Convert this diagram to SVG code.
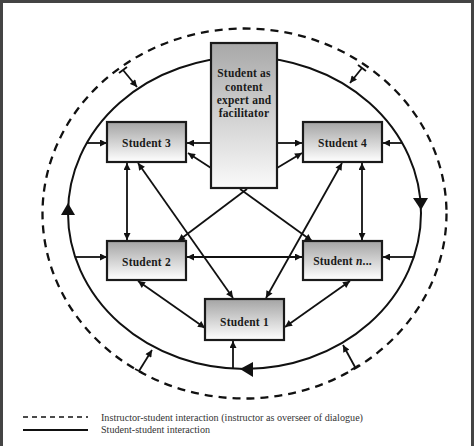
<svg xmlns="http://www.w3.org/2000/svg" width="474" height="446" viewBox="0 0 474 446">
<style>
.box{stroke:#1a1a1a;stroke-width:2.2;fill:url(#g)}
.lbl{font-family:"Liberation Serif",serif;font-weight:bold;font-size:11.5px;fill:#1a1a1a;text-anchor:middle;letter-spacing:0.2px}
.c{stroke:#111;stroke-width:1.8;fill:none}
.leg{font-family:"Liberation Serif",serif;font-size:9.5px;fill:#333}
</style>
<defs>
<linearGradient id="g" x1="0" y1="0" x2="0" y2="1"><stop offset="0" stop-color="#a4a4a4"/><stop offset="1" stop-color="#ffffff"/></linearGradient>
<linearGradient id="g2" x1="0" y1="0" x2="0" y2="1"><stop offset="0" stop-color="#a8a8a8"/><stop offset="1" stop-color="#fafafa"/></linearGradient>
<marker id="a" viewBox="0 0 10 10" refX="10" refY="5" markerWidth="8" markerHeight="7" markerUnits="userSpaceOnUse" orient="auto-start-reverse"><path d="M0,0L10,5L0,10z" fill="#111"/></marker>
</defs>
<rect x="1.5" y="1.5" width="471" height="450" fill="#fff" stroke="#444" stroke-width="3"/>
<g id="ellipses">
<ellipse cx="244.5" cy="213.5" rx="202" ry="185" fill="none" stroke="#111" stroke-width="2.3" stroke-dasharray="8,6"/>
<ellipse cx="244.5" cy="213" rx="176.5" ry="156" fill="none" stroke="#111" stroke-width="2"/>
<path d="M68,203L61,215L75,215z" fill="#111"/>
<path d="M421,210L413,198L428,198z" fill="#111"/>
<path d="M240,369L253,362L253,377z" fill="#111"/>
</g>
<g id="connectors">
<line class="c" x1="87" y1="143" x2="107" y2="143" marker-end="url(#a)"/>
<line class="c" x1="211" y1="143" x2="187" y2="143" marker-end="url(#a)"/>
<line class="c" x1="211" y1="168" x2="188" y2="153" marker-end="url(#a)"/>
<line class="c" x1="277" y1="143" x2="302" y2="143" marker-end="url(#a)"/>
<line class="c" x1="277" y1="168" x2="302" y2="153" marker-end="url(#a)"/>
<line class="c" x1="402" y1="143" x2="383" y2="143" marker-end="url(#a)"/>
<line class="c" x1="127" y1="163" x2="127" y2="240" marker-start="url(#a)" marker-end="url(#a)"/>
<line class="c" x1="362" y1="163" x2="362" y2="240" marker-start="url(#a)" marker-end="url(#a)"/>
<line class="c" x1="76" y1="257" x2="107" y2="257" marker-end="url(#a)"/>
<line class="c" x1="413" y1="257" x2="383" y2="257" marker-end="url(#a)"/>
<line class="c" x1="187" y1="257" x2="302" y2="257" marker-start="url(#a)" marker-end="url(#a)"/>
<line class="c" x1="138" y1="163" x2="233" y2="298" marker-start="url(#a)" marker-end="url(#a)"/>
<line class="c" x1="342" y1="163" x2="266" y2="298" marker-start="url(#a)" marker-end="url(#a)"/>
<line class="c" x1="138" y1="281" x2="205" y2="328" marker-start="url(#a)" marker-end="url(#a)"/>
<line class="c" x1="350" y1="281" x2="285" y2="327" marker-start="url(#a)" marker-end="url(#a)"/>
<line class="c" x1="247" y1="189" x2="178" y2="241" marker-end="url(#a)"/>
<line class="c" x1="240" y1="189" x2="312" y2="241" marker-end="url(#a)"/>
<line class="c" x1="233" y1="369" x2="233" y2="341" marker-end="url(#a)"/>
<line class="c" x1="123" y1="70" x2="137" y2="87" marker-end="url(#a)"/>
<line class="c" x1="119" y1="73" x2="127" y2="67"/>
<line class="c" x1="362" y1="68" x2="350" y2="83" marker-end="url(#a)"/>
<line class="c" x1="358" y1="65" x2="366" y2="71"/>
<line class="c" x1="139" y1="371" x2="152" y2="350" marker-end="url(#a)"/>
<line class="c" x1="135" y1="369" x2="143" y2="373"/>
<line class="c" x1="355" y1="367" x2="343" y2="345" marker-end="url(#a)"/>
<line class="c" x1="351" y1="370" x2="359" y2="365"/>
</g>
<g id="center">
<rect x="211" y="43" width="66" height="145" fill="url(#g2)" stroke="#1a1a1a" stroke-width="2.2"/>
<text class="lbl" x="244" y="77">Student as</text>
<text class="lbl" x="244" y="91">content</text>
<text class="lbl" x="244" y="104">expert and</text>
<text class="lbl" x="244" y="117">facilitator</text>
</g>
<g id="s3"><rect class="box" x="107" y="122" width="79" height="40"/><text class="lbl" x="146.5" y="147">Student 3</text></g>
<g id="s4"><rect class="box" x="303" y="122" width="79" height="40"/><text class="lbl" x="342.5" y="147">Student 4</text></g>
<g id="s2"><rect class="box" x="107" y="241" width="79" height="39"/><text class="lbl" x="146.5" y="266">Student 2</text></g>
<g id="sn"><rect class="box" x="303" y="241" width="79" height="39"/><text class="lbl" x="342.5" y="265">Student <tspan font-style="italic">n</tspan>...</text></g>
<g id="s1"><rect class="box" x="205" y="299" width="79" height="41"/><text class="lbl" x="244.5" y="326">Student 1</text></g>
<g id="legend">
<line x1="23" y1="417" x2="88" y2="417" stroke="#111" stroke-width="1.5" stroke-dasharray="5,4"/>
<line x1="23" y1="430" x2="88" y2="430" stroke="#111" stroke-width="1.8"/>
<text class="leg" x="101" y="421" textLength="262" lengthAdjust="spacingAndGlyphs">Instructor-student interaction (instructor as overseer of dialogue)</text>
<text class="leg" x="101" y="433" textLength="109" lengthAdjust="spacingAndGlyphs">Student-student interaction</text>
</g>
</svg>
